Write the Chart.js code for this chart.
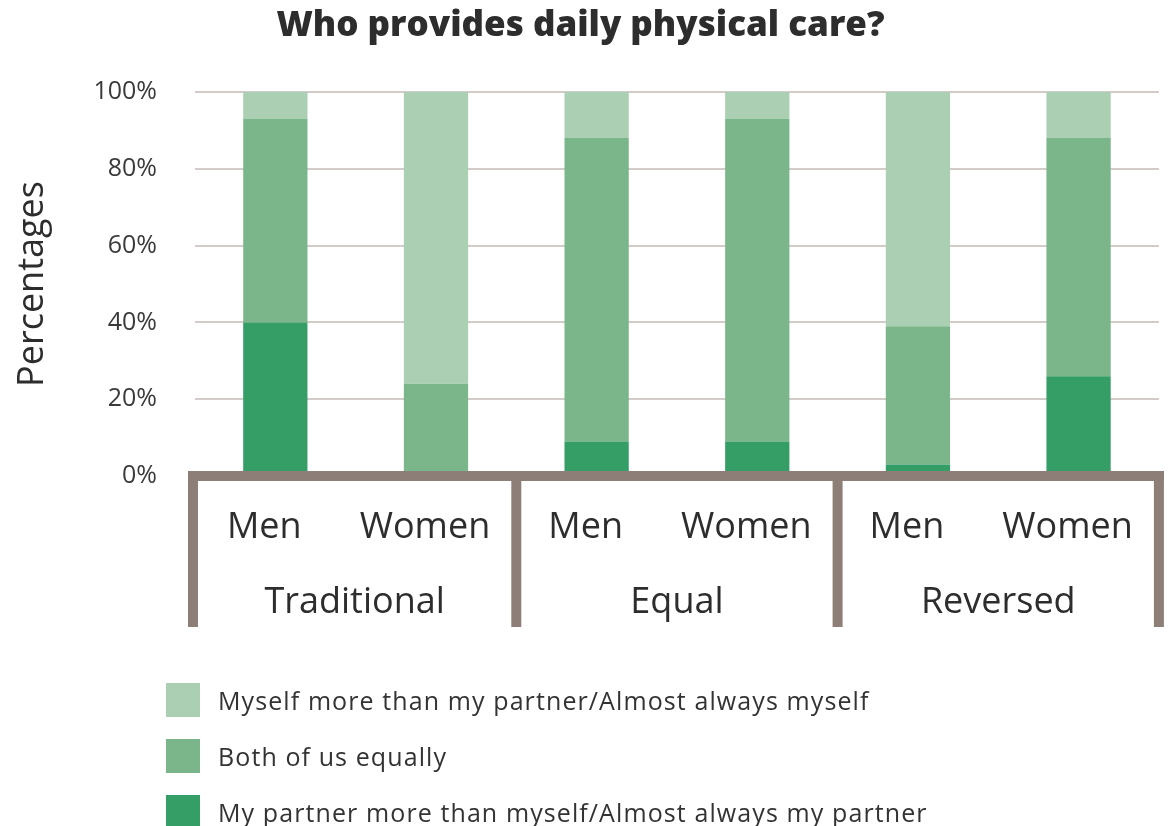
<!DOCTYPE html>
<html>
<head>
<meta charset="utf-8">
<script src="https://cdn.jsdelivr.net/npm/chart.js@4.4.1/dist/chart.umd.min.js"></script>
<style>
  html, body { margin: 0; padding: 0; background: #fff; }
  #wrap { position: relative; width: 1175px; height: 826px; }
  #legend ul { list-style: none; margin: 0; padding: 0; }
  #legend { position: absolute; left: 166px; top: 683px; }
  #legend li { display: flex; align-items: center; height: 34px; margin-bottom: 22px; }
  #legend .box { width: 34px; height: 34px; margin-right: 18px; }
  #legend .txt { font-family: "Open Sans", sans-serif; font-size: 25px; letter-spacing: 1.1px; color: #333; }
</style>
</head>
<body>
<div id="wrap">
  <canvas id="care-chart" width="1175" height="826"></canvas>
  <div id="legend"><ul></ul></div>
</div>
<script>
// Data
const categories = ['Men', 'Women', 'Men', 'Women', 'Men', 'Women'];
const groups = ['Traditional', 'Equal', 'Reversed'];
const partnerMore = [40, 0, 9, 9, 3, 26];
const bothEqually = [53, 24, 79, 84, 36, 62];
const myselfMore = [7, 76, 12, 7, 61, 12];
const yTicks = [0, 20, 40, 60, 80, 100];

const colors = {
  light: '#aacfb3',
  mid: '#7bb68a',
  dark: '#359e66',
  bracket: '#8e7e78',
  grid: '#d2cbc8',
  text: '#2d2d2d',
};

// Brown bracket lines + group names under the category labels
const groupBrackets = {
  id: 'groupBrackets',
  afterDatasetsDraw(c) {
    const { ctx, chartArea } = c;
    const x = c.scales.x;
    const y0 = c.scales.y.getPixelForValue(0);
    const step = x.getPixelForValue(1) - x.getPixelForValue(0);
    const bottom = 627;
    ctx.save();
    ctx.strokeStyle = colors.bracket;
    ctx.lineWidth = 10;
    ctx.lineCap = 'butt';
    // horizontal base line
    ctx.beginPath();
    ctx.moveTo(chartArea.left - 7, y0);
    ctx.lineTo(chartArea.right + 5, y0);
    ctx.stroke();
    // verticals
    const edges = [];
    for (let g = 0; g <= groups.length; g += 1) {
      edges.push(x.getPixelForValue(g * 2) - step / 2);
    }
    edges[0] = chartArea.left - 2;
    edges[groups.length] = chartArea.right;
    edges.forEach((ex) => {
      ctx.beginPath();
      ctx.moveTo(ex, y0 - 5);
      ctx.lineTo(ex, bottom);
      ctx.stroke();
    });
    // group labels
    ctx.fillStyle = colors.text;
    ctx.font = '36px "Open Sans", sans-serif';
    ctx.textAlign = 'center';
    ctx.textBaseline = 'middle';
    groups.forEach((name, g) => {
      ctx.fillText(name, (edges[g] + edges[g + 1]) / 2, 603);
    });
    ctx.restore();
  },
};

const htmlLegend = {
  id: 'htmlLegend',
  afterUpdate(c) {
    const ul = document.querySelector('#legend ul');
    while (ul.firstChild) ul.firstChild.remove();
    const items = c.options.plugins.legend.labels.generateLabels(c).reverse();
    items.forEach((item) => {
      const li = document.createElement('li');
      const box = document.createElement('span');
      box.className = 'box';
      box.style.background = item.fillStyle;
      const label = document.createElement('span');
      label.className = 'txt';
      label.textContent = item.text;
      li.appendChild(box);
      li.appendChild(label);
      ul.appendChild(li);
    });
  },
};

const chart = new Chart(document.getElementById('care-chart'), {
  type: 'bar',
  data: {
    labels: categories,
    datasets: [
      {
        label: 'My partner more than myself/Almost always my partner',
        data: partnerMore,
        backgroundColor: colors.dark,
      },
      {
        label: 'Both of us equally',
        data: bothEqually,
        backgroundColor: colors.mid,
      },
      {
        label: 'Myself more than my partner/Almost always myself',
        data: myselfMore,
        backgroundColor: colors.light,
      },
    ],
  },
  options: {
    responsive: false,
    animation: false,
    layout: {
      padding: { left: 0, right: 14, top: 0, bottom: 0 },
    },
    datasets: {
      bar: {
        barPercentage: 0.4,
        categoryPercentage: 1,
        borderWidth: 0,
      },
    },
    scales: {
      x: {
        stacked: true,
        grid: { display: false, drawTicks: false },
        border: { display: false },
        ticks: {
          padding: 30,
          labelOffset: -11,
          color: colors.text,
          font: { family: '"Open Sans", sans-serif', size: 36 },
          maxRotation: 0,
        },
        afterFit(scale) { scale.height = 350; },
      },
      y: {
        stacked: true,
        min: 0,
        max: 100,
        afterBuildTicks(scale) { scale.ticks = yTicks.map((v) => ({ value: v })); },
        grid: {
          color: (context) => (context.tick && context.tick.value === 0 ? 'rgba(0,0,0,0)' : colors.grid),
          lineWidth: 2,
          drawTicks: false,
        },
        border: { display: false },
        ticks: {
          padding: 38,
          color: '#3a3a3a',
          font: { family: '"Open Sans", sans-serif', size: 25 },
          callback: (value) => `${value}%`,
        },
        title: {
          display: true,
          text: 'Percentages',
          color: colors.text,
          font: { family: '"Open Sans", sans-serif', size: 36, weight: '500' },
          padding: { top: 11, bottom: 0 },
        },
        afterFit(scale) { scale.width = 195; },
      },
    },
    plugins: {
      legend: { display: false },
      tooltip: { enabled: false },
      title: {
        display: true,
        text: 'Who provides daily physical care?',
        color: colors.text,
        font: { family: '"Open Sans", sans-serif', size: 35, weight: '800' },
        padding: { top: 5, bottom: 45 },
      },
    },
  },
  plugins: [groupBrackets, htmlLegend],
});
</script>
</body>
</html>
